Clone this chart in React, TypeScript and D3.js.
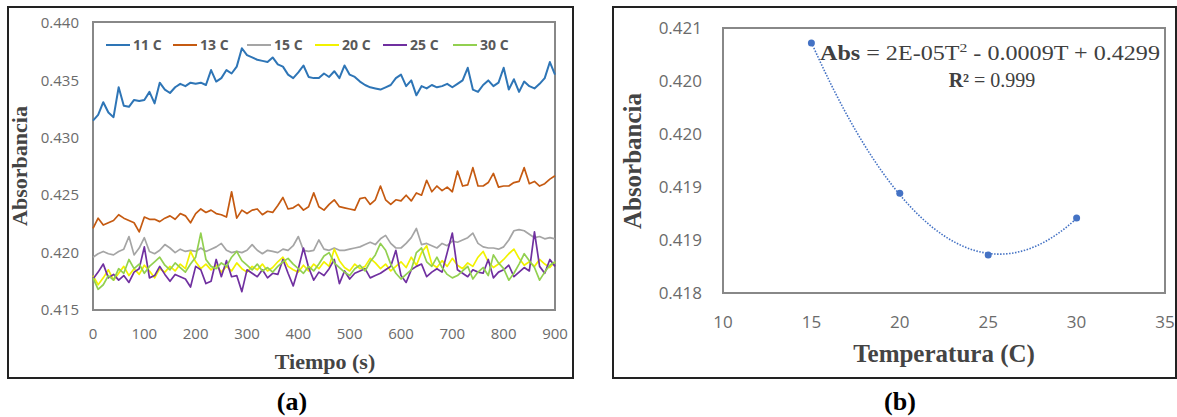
import React from 'react';
import * as d3 from 'd3';

// ---------- Panel (a) data ----------
const timeS = d3.range(0, 901, 10);
const seriesNames = ['11 C', '13 C', '15 C', '20 C', '25 C', '30 C'];
const seriesColors = ['#2E75B6', '#C55A11', '#A5A5A5', '#F2F200', '#7030A0', '#92D050'];

const abs11 = [
  0.4315, 0.4320, 0.4331, 0.4322, 0.4318, 0.4344, 0.4328, 0.4327, 0.4333, 0.4332,
  0.4333, 0.4340, 0.4330, 0.4348, 0.4342, 0.4339, 0.4344, 0.4347, 0.4345, 0.4348,
  0.4347, 0.4348, 0.4346, 0.4359, 0.4349, 0.4352, 0.4359, 0.4356, 0.4362, 0.4378,
  0.4372, 0.4370, 0.4368, 0.4367, 0.4366, 0.4370, 0.4364, 0.4362, 0.4355, 0.4352,
  0.4357, 0.4363, 0.4353, 0.4352, 0.4352, 0.4356, 0.4353, 0.4358, 0.4352, 0.4363,
  0.4355, 0.4353, 0.4349, 0.4346, 0.4344, 0.4343, 0.4342, 0.4344, 0.4346, 0.4352,
  0.4355, 0.4345, 0.4350, 0.4337, 0.4345, 0.4343, 0.4346, 0.4344, 0.4345, 0.4347,
  0.4344, 0.4347, 0.4350, 0.4361, 0.4342, 0.4340, 0.4346, 0.4350, 0.4345, 0.4348,
  0.4361, 0.4342, 0.4351, 0.4340, 0.4349, 0.4345, 0.4343, 0.4347, 0.4352, 0.4366,
  0.4355,
];
const abs13 = [
  0.4221, 0.4230, 0.4224, 0.4226, 0.4228, 0.4233, 0.4230, 0.4228, 0.4226, 0.4218,
  0.4231, 0.4229, 0.4229, 0.4227, 0.4230, 0.4232, 0.4229, 0.4234, 0.4232, 0.4226,
  0.4234, 0.4238, 0.4235, 0.4237, 0.4234, 0.4233, 0.4231, 0.4253, 0.4230, 0.4237,
  0.4234, 0.4237, 0.4238, 0.4233, 0.4236, 0.4235, 0.4241, 0.4248, 0.4238, 0.4239,
  0.4242, 0.4237, 0.4240, 0.4252, 0.4240, 0.4237, 0.4242, 0.4246, 0.4240, 0.4239,
  0.4238, 0.4237, 0.4247, 0.4248, 0.4242, 0.4246, 0.4258, 0.4246, 0.4242, 0.4246,
  0.4245, 0.4250, 0.4245, 0.4252, 0.4250, 0.4263, 0.4253, 0.4258, 0.4254, 0.4257,
  0.4253, 0.4271, 0.4258, 0.4259, 0.4274, 0.4258, 0.4258, 0.4261, 0.4269, 0.4257,
  0.4258, 0.4258, 0.4261, 0.4262, 0.4274, 0.4260, 0.4262, 0.4258, 0.4260, 0.4264,
  0.4267,
];
const abs15 = [
  0.4196, 0.4199, 0.4201, 0.4199, 0.4198, 0.4201, 0.4203, 0.4214, 0.4198, 0.4204,
  0.4213, 0.4201, 0.4199, 0.4202, 0.4207, 0.4204, 0.4200, 0.4203, 0.4201, 0.4202,
  0.4201, 0.4204, 0.4201, 0.4203, 0.4205, 0.4208, 0.4202, 0.4200, 0.4201, 0.4200,
  0.4202, 0.4207, 0.4202, 0.4199, 0.4202, 0.4201, 0.4200, 0.4203, 0.4202, 0.4206,
  0.4214, 0.4202, 0.4201, 0.4202, 0.4211, 0.4203, 0.4202, 0.4204, 0.4202, 0.4202,
  0.4203, 0.4204, 0.4205, 0.4207, 0.4209, 0.4207, 0.4212, 0.4215, 0.4208, 0.4204,
  0.4204, 0.4208, 0.4213, 0.4221, 0.4207, 0.4208, 0.4206, 0.4204, 0.4208, 0.4206,
  0.4210, 0.4209, 0.4211, 0.4213, 0.4217, 0.4208, 0.4205, 0.4204, 0.4204, 0.4203,
  0.4205, 0.4211, 0.4219, 0.4220, 0.4219, 0.4216, 0.4213, 0.4214, 0.4212, 0.4213,
  0.4212,
];
const abs20 = [
  0.4180, 0.4172, 0.4178, 0.4185, 0.4176, 0.4182, 0.4188, 0.4180, 0.4186, 0.4181,
  0.4189, 0.4184, 0.4178, 0.4186, 0.4183, 0.4188, 0.4184, 0.4190, 0.4186, 0.4201,
  0.4192, 0.4186, 0.4190, 0.4185, 0.4189, 0.4183, 0.4188, 0.4184, 0.4191, 0.4186,
  0.4183, 0.4188, 0.4185, 0.4190, 0.4184, 0.4187, 0.4192, 0.4196, 0.4188, 0.4185,
  0.4183, 0.4189, 0.4184, 0.4190, 0.4186, 0.4192, 0.4188, 0.4203, 0.4193, 0.4187,
  0.4184, 0.4190, 0.4186, 0.4188, 0.4195, 0.4191, 0.4186, 0.4190, 0.4184, 0.4188,
  0.4192, 0.4187, 0.4196, 0.4189, 0.4200, 0.4206, 0.4190, 0.4187, 0.4193, 0.4188,
  0.4195, 0.4189, 0.4186, 0.4191, 0.4188, 0.4196, 0.4201, 0.4192, 0.4187, 0.4190,
  0.4194, 0.4199, 0.4203, 0.4195, 0.4189, 0.4192, 0.4188, 0.4194, 0.4190, 0.4187,
  0.4192,
];
const abs25 = [
  0.4177, 0.4183, 0.4190, 0.4178, 0.4181, 0.4176, 0.4180, 0.4174, 0.4183, 0.4186,
  0.4205, 0.4178, 0.4180, 0.4188, 0.4181, 0.4175, 0.4181, 0.4179, 0.4177, 0.4170,
  0.4188, 0.4185, 0.4173, 0.4175, 0.4194, 0.4179, 0.4193, 0.4179, 0.4180, 0.4166,
  0.4185, 0.4182, 0.4179, 0.4185, 0.4178, 0.4182, 0.4181, 0.4194, 0.4182, 0.4171,
  0.4186, 0.4204, 0.4187, 0.4176, 0.4183, 0.4180, 0.4186, 0.4194, 0.4173, 0.4184,
  0.4177, 0.4182, 0.4184, 0.4186, 0.4178, 0.4180, 0.4182, 0.4185, 0.4188, 0.4202,
  0.4180, 0.4174, 0.4185, 0.4188, 0.4190, 0.4179, 0.4183, 0.4186, 0.4183, 0.4200,
  0.4217, 0.4185, 0.4182, 0.4179, 0.4185, 0.4183, 0.4182, 0.4194, 0.4178, 0.4183,
  0.4185, 0.4189, 0.4179, 0.4183, 0.4187, 0.4184, 0.4218, 0.4188, 0.4182, 0.4194,
  0.4188,
];
const abs30 = [
  0.4178, 0.4168, 0.4172, 0.4180, 0.4176, 0.4186, 0.4182, 0.4194, 0.4186, 0.4190,
  0.4182, 0.4188, 0.4192, 0.4196, 0.4189, 0.4185, 0.4191, 0.4187, 0.4183, 0.4190,
  0.4196, 0.4217, 0.4194, 0.4188, 0.4186, 0.4191, 0.4188, 0.4196, 0.4201, 0.4193,
  0.4189, 0.4185, 0.4190, 0.4184, 0.4187, 0.4183, 0.4188, 0.4192, 0.4195, 0.4190,
  0.4186, 0.4182, 0.4188, 0.4184, 0.4190, 0.4197, 0.4200, 0.4191, 0.4187, 0.4183,
  0.4180, 0.4186, 0.4189, 0.4184, 0.4192, 0.4198, 0.4208, 0.4202, 0.4190, 0.4182,
  0.4177, 0.4181, 0.4185, 0.4200, 0.4204, 0.4192, 0.4188, 0.4196, 0.4187, 0.4181,
  0.4178, 0.4180, 0.4184, 0.4188, 0.4177, 0.4183, 0.4187, 0.4180, 0.4198, 0.4191,
  0.4186, 0.4176, 0.4182, 0.4190, 0.4199, 0.4193, 0.4187, 0.4176, 0.4183, 0.4189,
  0.4192,
];
const seriesA = [abs11, abs13, abs15, abs20, abs25, abs30];
const yTicksA = [0.415, 0.420, 0.425, 0.430, 0.435, 0.440];
const xTicksA = [0, 100, 200, 300, 400, 500, 600, 700, 800, 900];

// ---------- Panel (b) data ----------
const tempC = [15, 20, 25, 30];
const absT = [0.42083, 0.41913, 0.41843, 0.41885];
const xTicksB = [10, 15, 20, 25, 30, 35];
const yTicksB = [0.418, 0.4186, 0.4192, 0.4198, 0.4204, 0.421];

function quadFit(xs: number[], ys: number[]) {
  // least squares y = a x^2 + b x + c
  const S = (f: (x: number, y: number) => number) => d3.sum(xs.map((x, i) => f(x, ys[i])));
  const M = [
    [S((x) => x ** 4), S((x) => x ** 3), S((x) => x ** 2), S((x, y) => x * x * y)],
    [S((x) => x ** 3), S((x) => x ** 2), S((x) => x), S((x, y) => x * y)],
    [S((x) => x ** 2), S((x) => x), xs.length, S((x, y) => y)],
  ];
  for (let i = 0; i < 3; i++) {
    for (let k = i + 1; k < 3; k++) {
      const f = M[k][i] / M[i][i];
      for (let j = i; j < 4; j++) M[k][j] -= f * M[i][j];
    }
  }
  const r = [0, 0, 0];
  for (let i = 2; i >= 0; i--) {
    let s = M[i][3];
    for (let j = i + 1; j < 3; j++) s -= M[i][j] * r[j];
    r[i] = s / M[i][i];
  }
  return r;
}

const tickFont = "'Open Sans', 'DejaVu Sans', sans-serif";
const serif = "'Liberation Serif', 'Times New Roman', serif";

export default function App() {
  // Panel (a) scales
  const xA = d3.scaleLinear().domain([0, 900]).range([93, 555]);
  const yA = d3.scaleLinear().domain([0.415, 0.44]).range([310, 23]);
  const lineA = d3.line<number>().x((_, i) => xA(timeS[i])).y((d) => yA(d));

  // Panel (b) scales
  const xB = d3.scaleLinear().domain([10, 35]).range([723, 1165]);
  const yB = d3.scaleLinear().domain([0.418, 0.421]).range([293, 28]);
  const [qa, qb, qc] = quadFit(tempC, absT);
  const fitX = d3.range(15, 30.001, 0.25);
  const lineB = d3
    .line<number>()
    .x((t) => xB(t))
    .y((t) => yB(qa * t * t + qb * t + qc))
    .curve(d3.curveBasis);
  const fmtB = d3.format('.3f');

  const legendX = [106, 173, 247, 315, 383, 453];

  return (
    <svg
      width={1177}
      height={417}
      style={{ position: 'absolute', left: 0, top: 0, background: '#fff' }}
    >
      {/* ===== Panel (a) ===== */}
      <rect x={8} y={7} width={565} height={371} fill="#fff" stroke="#222" strokeWidth={2} />
      <rect x={93} y={22} width={462} height={288} fill="#fff" stroke="#888" strokeWidth={2} />
      {yTicksA.map((t) => (
        <text key={t} x={79} y={yA(t)} dy="0.35em" textAnchor="end" fontFamily={tickFont} fontSize={15} fill="#6b6b6b">
          {d3.format('.3f')(t)}
        </text>
      ))}
      {xTicksA.map((t) => (
        <text key={t} x={xA(t)} y={339} textAnchor="middle" fontFamily={tickFont} fontSize={15} fill="#6b6b6b">
          {t}
        </text>
      ))}
      {seriesA.map((s, i) => (
        <path key={i} d={lineA(s) || ''} fill="none" stroke={seriesColors[i]} strokeWidth={i === 0 ? 2 : 1.7} strokeLinejoin="round" />
      ))}
      {seriesNames.map((n, i) => (
        <g key={n}>
          <line x1={legendX[i]} x2={legendX[i] + 24} y1={45} y2={45} stroke={seriesColors[i]} strokeWidth={2} />
          <text x={legendX[i] + 27} y={45} dy="0.35em" fontFamily={tickFont} fontWeight="bold" fontSize={14} fill="#595959">
            {n}
          </text>
        </g>
      ))}
      <text x={325} y={369} textAnchor="middle" fontFamily={serif} fontWeight="bold" fontSize={22} fill="#444">
        Tiempo (s)
      </text>
      <text transform="translate(27,166) rotate(-90)" textAnchor="middle" fontFamily={serif} fontWeight="bold" fontSize={22} fill="#444">
        Absorbancia
      </text>
      <text x={292} y={410} textAnchor="middle" fontFamily={serif} fontWeight="bold" fontSize={26} fill="#000">
        (a)
      </text>

      {/* ===== Panel (b) ===== */}
      <rect x={613} y={7} width={563} height={371} fill="#fff" stroke="#222" strokeWidth={2} />
      <rect x={723} y={28} width={442} height={265} fill="#fff" stroke="#888" strokeWidth={2} />
      {yTicksB.map((t) => (
        <text key={t} x={702} y={yB(t)} dy="0.35em" textAnchor="end" fontFamily={tickFont} fontSize={17} fill="#6b6b6b">
          {fmtB(t)}
        </text>
      ))}
      {xTicksB.map((t) => (
        <text key={t} x={xB(t)} y={322} dy="0.35em" textAnchor="middle" fontFamily={tickFont} fontSize={17} fill="#6b6b6b">
          {t}
        </text>
      ))}
      <path d={lineB(fitX) || ''} fill="none" stroke="#4472C4" strokeWidth={1.6} strokeDasharray="1.5 1.5" />
      {tempC.map((t, i) => (
        <circle key={t} cx={xB(t)} cy={yB(absT[i])} r={3.5} fill="#4472C4" />
      ))}
      <text x={820} y={60} fontFamily={serif} fontSize={20} fill="#404040" textLength={340} lengthAdjust="spacingAndGlyphs">
        <tspan fontWeight="bold">Abs</tspan>
        <tspan> = 2E-05T</tspan>
        <tspan fontSize={13} dy={-8}>2</tspan>
        <tspan dy={8}> - 0.0009T + 0.4299</tspan>
      </text>
      <text x={992} y={87} textAnchor="middle" fontFamily={serif} fontSize={20} fill="#404040">
        <tspan fontWeight="bold">R²</tspan>
        <tspan> = 0.999</tspan>
      </text>
      <text x={944} y={362} textAnchor="middle" fontFamily={serif} fontWeight="bold" fontSize={25} fill="#444">
        Temperatura (C)
      </text>
      <text transform="translate(641,161) rotate(-90)" textAnchor="middle" fontFamily={serif} fontWeight="bold" fontSize={25} fill="#444">
        Absorbancia
      </text>
      <text x={900} y={410} textAnchor="middle" fontFamily={serif} fontWeight="bold" fontSize={26} fill="#000">
        (b)
      </text>
    </svg>
  );
}
